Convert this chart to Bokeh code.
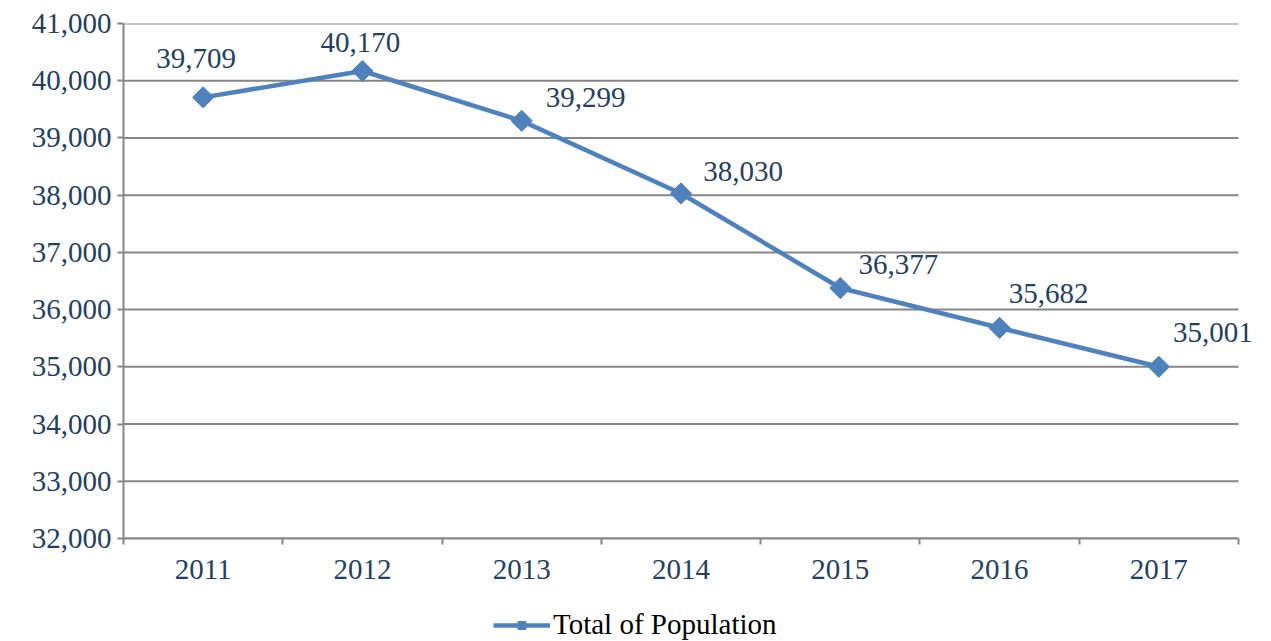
import math
from bokeh.plotting import figure
from bokeh.layouts import column
from bokeh.models import (ColumnDataSource, Range1d, FixedTicker, NumeralTickFormatter,
                          Legend, LegendItem, LabelSet)
from bokeh.embed import file_html
from bokeh.resources import INLINE

years = ["2011", "2012", "2013", "2014", "2015", "2016", "2017"]
population = [39709, 40170, 39299, 38030, 36377, 35682, 35001]
value_labels = ["39,709", "40,170", "39,299", "38,030", "36,377", "35,682", "35,001"]
y_ticks = [32000, 33000, 34000, 35000, 36000, 37000, 38000, 39000, 40000, 41000]
series_name = "Total of Population"

# label offsets (style, pixels)
label_dx = [-7, -2, 64, 62, 58, 49, 54]
label_dy = [39, 28, 23, 22, 24, 34, 34]

n = len(years)
xpos = [i + 0.5 for i in range(n)]
src = ColumnDataSource(dict(x=xpos, y=population, lab=value_labels, dx=label_dx, dy=label_dy))

FONT = "Liberation Serif"
TXT = "#243f60"
GRID = "#868686"
BLUE = "#4f81bd"

PLOT_W = 1115     # width of the category area in px
FRAME_W = 1148    # extra room on the right for the last data label

p = figure(frame_width=FRAME_W, frame_height=515, output_backend="svg", toolbar_location=None,
           x_range=Range1d(0, n * FRAME_W / PLOT_W), y_range=Range1d(32000, 41000),
           min_border_left=123, min_border_right=0, min_border_top=23, min_border_bottom=60)
p.outline_line_color = None
p.background_fill_color = "white"
p.border_fill_color = "white"

# horizontal gridlines limited to the category area
gsrc = ColumnDataSource(dict(y=y_ticks, x0=[0] * len(y_ticks), x1=[n] * len(y_ticks)))
p.segment(x0="x0", x1="x1", y0="y", y1="y", source=gsrc, line_color=GRID, line_width=2)

p.line("x", "y", source=src, line_color=BLUE, line_width=4.5)
p.scatter("x", "y", source=src, marker="square", angle=math.pi / 4, size=15,
          fill_color=BLUE, line_color=BLUE)

labels = LabelSet(x="x", y="y", text="lab", source=src, x_offset="dx", y_offset="dy",
                  text_font=FONT, text_font_size="29px", text_color=TXT,
                  text_align="center", text_baseline="middle")
p.add_layout(labels)

# y axis
p.yaxis.ticker = FixedTicker(ticks=y_ticks)
p.yaxis.formatter = NumeralTickFormatter(format="0,0")
p.yaxis.major_label_text_font = FONT
p.yaxis.major_label_text_font_size = "29px"
p.yaxis.major_label_text_color = TXT
p.yaxis.axis_line_color = GRID
p.yaxis.axis_line_width = 2
p.yaxis.major_tick_line_color = GRID
p.yaxis.major_tick_line_width = 2
p.yaxis.major_tick_in = 0
p.yaxis.major_tick_out = 6
p.yaxis.minor_tick_line_color = None
p.yaxis.major_label_standoff = 6

# x axis
p.xaxis.bounds = (0, n)
p.xaxis.ticker = FixedTicker(ticks=xpos, minor_ticks=list(range(n + 1)))
p.xaxis.major_label_overrides = {x: y for x, y in zip(xpos, years)}
p.xaxis.major_label_text_font = FONT
p.xaxis.major_label_text_font_size = "29px"
p.xaxis.major_label_text_color = TXT
p.xaxis.axis_line_color = GRID
p.xaxis.axis_line_width = 2
p.xaxis.major_tick_line_color = None
p.xaxis.major_tick_out = 6
p.xaxis.minor_tick_line_color = GRID
p.xaxis.minor_tick_line_width = 2
p.xaxis.minor_tick_in = 0
p.xaxis.minor_tick_out = 6
p.xaxis.major_label_standoff = 15

p.xgrid.grid_line_color = None
p.ygrid.grid_line_color = None

# legend strip below the chart (its own small figure; series drawn off-view)
leg = figure(width=1271, height=43, output_backend="svg", toolbar_location=None,
             x_range=Range1d(-20, -19), y_range=Range1d(0, 1),
             x_axis_type=None, y_axis_type=None,
             min_border_left=0, min_border_right=0, min_border_top=0, min_border_bottom=0)
leg.outline_line_color = None
leg.xgrid.grid_line_color = None
leg.ygrid.grid_line_color = None
l_line = leg.line("x", "y", source=src, line_color=BLUE, line_width=4.5)
l_pts = leg.scatter("x", "y", source=src, marker="square", angle=math.pi / 4, size=15,
                    fill_color=BLUE, line_color=BLUE)
legend = Legend(items=[LegendItem(label=series_name, renderers=[l_line, l_pts])],
                location=(370, 0), orientation="horizontal",
                label_text_font=FONT, label_text_font_size="29px", label_text_color="#000000",
                glyph_width=57, glyph_height=20, label_standoff=3, border_line_color=None,
                background_fill_alpha=0, padding=0, margin=0, label_height=28)
leg.add_layout(legend)

layout = column(p, leg, spacing=0)
open("out.html", "w").write(file_html(layout, INLINE))
